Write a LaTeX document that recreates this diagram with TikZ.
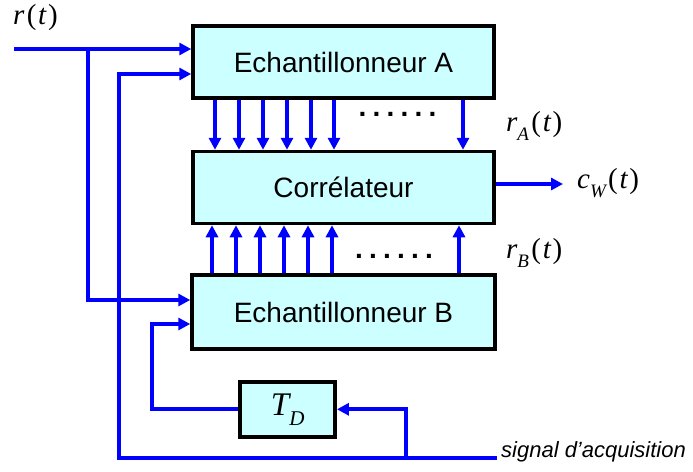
\documentclass[tikz,border=0pt]{standalone}
\usepackage{fontspec}
\setmainfont{Liberation Sans}
\newfontfamily\tms{Liberation Serif}
\usetikzlibrary{arrows.meta}
\definecolor{wireblue}{RGB}{0,0,255}
\definecolor{boxfill}{RGB}{204,255,255}
% italic variable with optional subscript, followed by (t)
\newcommand{\varlabel}[2]{{\tms\fontsize{29}{29}\selectfont\itshape #1\raisebox{-0.3em}{\fontsize{19}{19}\selectfont #2}\kern0.08em\upshape(\kern0.06em\itshape t\kern0.06em\upshape)}}
\newcommand{\dotrow}{{\fontsize{28}{28}\selectfont\bfseries .\hspace{6.2pt}.\hspace{6.2pt}.\hspace{6.2pt}.\hspace{6.2pt}.\hspace{6.2pt}.}}
\begin{document}
\begin{tikzpicture}[x=1pt,y=-1pt,
  block/.style={draw=black, line width=3.5pt, fill=boxfill, inner sep=0pt,
    font=\fontsize{28}{28}\selectfont},
  wire/.style={draw=wireblue, line width=4pt},
  feed/.style={wire, -{Triangle[length=12pt,width=12pt]}},
  lbl/.style={anchor=west, inner sep=0pt}]
\useasboundingbox (0,0) rectangle (693,471);

% blocks
\node[block, minimum width=301pt, minimum height=72pt] (A) at (343.5,62) {Echantillonneur A};
\node[block, minimum width=301pt, minimum height=72pt] (C) at (343.5,187.5) {Corrélateur};
\node[block, minimum width=303pt, minimum height=74pt] (B) at (343.5,312) {Echantillonneur B};
\node[block, minimum width=95pt, minimum height=55pt] (TD) at (287.7,409.3)
  {{\tms\fontsize{33}{33}\selectfont\itshape T\raisebox{-0.3em}{\fontsize{21}{21}\selectfont D}}};

% parallel sample lines
\foreach \x in {215,239,263,287,311,334,463}
  \draw[feed] (A.south -| \x,0) -- (C.north -| \x,0);
\foreach \x in {212,236,260,284,308,332,459}
  \draw[feed] (B.north -| \x,0) -- (C.south -| \x,0);
\node[inner sep=0pt] (dA) at (397.5,114) {\dotrow};
\node[inner sep=0pt] (dB) at (394,256) {\dotrow};

% input signal r(t)
\coordinate (rin) at (14,49);
\coordinate (rtap) at (88,49);
\coordinate (rB) at (88,300);
\draw[feed] (rin) -- (rin -| A.west);
\draw[feed] (rtap) -- (rB) -- (rB -| B.west);

% acquisition signal
\coordinate (acq) at (497,458);
\coordinate (clkA) at (119,74);
\coordinate (tap) at (406,458);
\coordinate (clkB) at (152,324);
\draw[feed] (acq) -| (clkA) -- (clkA -| A.west);
\draw[feed] (tap) |- (TD.east);
\draw[feed] (TD.west) -| (clkB) -- (clkB -| B.west);

% output
\coordinate (out) at (563,184);
\draw[feed] (out -| C.east) -- (out);

% labels
\node[lbl] (lr) at (13,19) {\varlabel{r}{}};
\node[lbl] (lrA) at (506,126) {\varlabel{r}{A}};
\node[lbl] (lrB) at (506,253) {\varlabel{r}{B}};
\node[lbl] (lcw) at (577,183) {\varlabel{c}{W}};
\node[lbl] (lacq) at (501,452) {\fontsize{22}{22}\selectfont\itshape signal d’acquisition};
\end{tikzpicture}
\end{document}
